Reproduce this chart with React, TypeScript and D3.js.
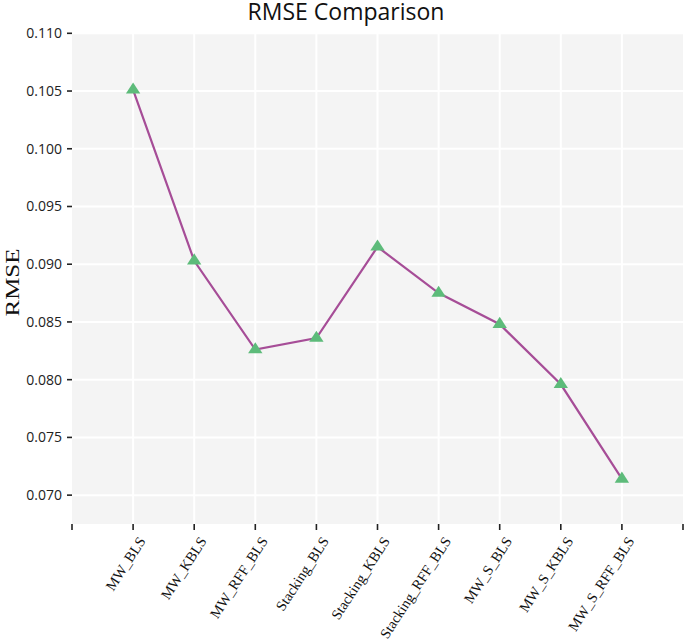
import React from "react";
import * as d3 from "d3";

const categories = [
  "MW_BLS",
  "MW_KBLS",
  "MW_RFF_BLS",
  "Stacking_BLS",
  "Stacking_KBLS",
  "Stacking_RFF_BLS",
  "MW_S_BLS",
  "MW_S_KBLS",
  "MW_S_RFF_BLS",
];
const rmseValues = [0.1051, 0.0903, 0.0826, 0.0836, 0.0915, 0.0875, 0.0848, 0.0796, 0.0714];
const yTicks = [0.07, 0.075, 0.08, 0.085, 0.09, 0.095, 0.1, 0.105, 0.11];
const titleText = "RMSE Comparison";
const yLabel = "RMSE";

const W = 685;
const H = 640;
const left = 72;
const right = 683;
const top = 33.3;
const bottom = 524;

export default function App() {
  const x = d3.scaleLinear().domain([0, categories.length + 1]).range([left, right]);
  const y = d3.scaleLinear().domain([0.0675, 0.11]).range([bottom, top]);
  const xTickIdx = d3.range(0, categories.length + 2);

  const line = d3
    .line<number>()
    .x((_, i) => x(i + 1))
    .y((d) => y(d));

  const triR = 7.4;
  const tri = (cx: number, cy: number) => {
    const r = triR;
    const hw = r * 0.866 * 1.12;
    return `M${cx},${cy - r}L${cx + hw},${cy + r / 2}L${cx - hw},${cy + r / 2}Z`;
  };

  const angle = -57;

  return (
    <svg
      width={W}
      height={H}
      style={{ position: "absolute", left: 0, top: 0, background: "#fff" }}
    >
      <rect x={left} y={top} width={right - left} height={bottom - top} fill="#f4f4f4" />
      {yTicks.map((t) => (
        <line
          key={"gy" + t}
          x1={left}
          x2={right}
          y1={y(t)}
          y2={y(t)}
          stroke="#ffffff"
          strokeWidth={2}
        />
      ))}
      {categories.map((c, i) => (
        <line
          key={"gx" + c}
          x1={x(i + 1)}
          x2={x(i + 1)}
          y1={top}
          y2={bottom}
          stroke="#ffffff"
          strokeWidth={2}
        />
      ))}
      {yTicks.map((t) => (
        <g key={"ty" + t}>
          <line x1={67} x2={72} y1={y(t)} y2={y(t)} stroke="#222" strokeWidth={1.6} />
          <text
            x={62}
            y={y(t)}
            dy="0.35em"
            textAnchor="end"
            fontFamily="'Open Sans', sans-serif"
            fontSize={14}
            fill="#222"
          >
            {t.toFixed(3)}
          </text>
        </g>
      ))}
      {xTickIdx.map((i) => (
        <line
          key={"tx" + i}
          x1={x(i)}
          x2={x(i)}
          y1={bottom}
          y2={530}
          stroke="#222"
          strokeWidth={1.6}
        />
      ))}
      {categories.map((c, i) => (
        <text
          key={"lx" + c}
          transform={`translate(${x(i + 1) + 13},${541}) rotate(${angle})`}
          textAnchor="end"
          fontFamily="'Liberation Serif', 'Times New Roman', serif"
          fontSize={14.5}
          fill="#111"
        >
          {c}
        </text>
      ))}
      <path d={line(rmseValues) || ""} fill="none" stroke="#a64d97" strokeWidth={2.2} />
      {rmseValues.map((v, i) => (
        <path key={"m" + i} d={tri(x(i + 1), y(v))} fill="#5dbb7a" />
      ))}
      <text
        x={346}
        y={20}
        textAnchor="middle"
        fontFamily="'Open Sans', sans-serif"
        fontSize={23}
        fill="#111"
      >
        {titleText}
      </text>
      <text
        transform={`translate(${19},${(248 + 317) / 2}) rotate(-90)`}
        textAnchor="middle"
        fontFamily="'Liberation Serif', 'Times New Roman', serif"
        fontSize={18}
        textLength={68}
        lengthAdjust="spacingAndGlyphs"
        fill="#111"
      >
        {yLabel}
      </text>
    </svg>
  );
}
